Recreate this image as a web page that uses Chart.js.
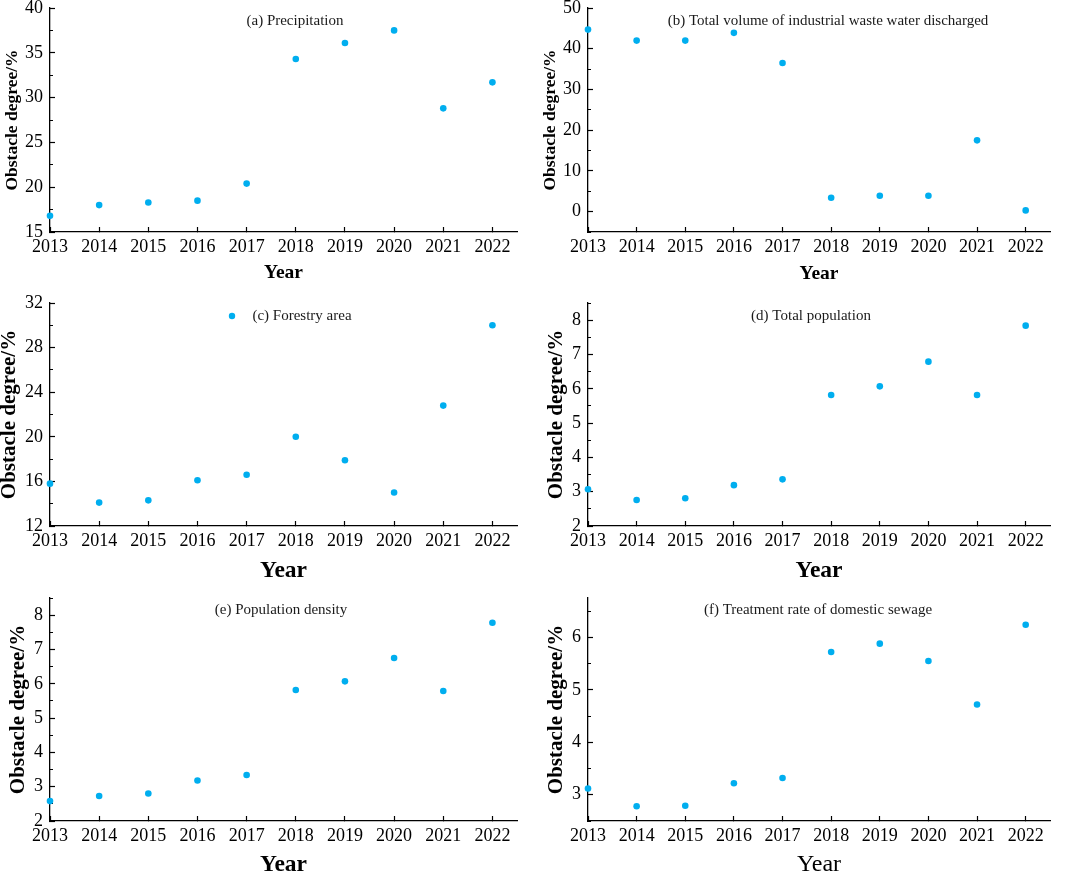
<!DOCTYPE html>
<html>
<head>
<meta charset="utf-8">
<title>Obstacle degree 2013-2022</title>
<script src="https://cdn.jsdelivr.net/npm/chart.js@4"></script>
<style>
  html, body { margin: 0; padding: 0; background: #fff; }
  #wrap { position: relative; width: 1065px; height: 874px; overflow: hidden; background: #fff; }
  #wrap canvas { position: absolute; }
</style>
</head>
<body>
<div id="wrap"></div>
<script>
// ---- Data ----
const years = [2013, 2014, 2015, 2016, 2017, 2018, 2019, 2020, 2021, 2022];

const precipitation   = [16.8, 18.0, 18.3, 18.5, 20.4, 34.3, 36.1, 37.5, 28.8, 31.7];
const wasteWater      = [44.7, 42.0, 42.0, 43.9, 36.5, 3.4, 3.9, 3.9, 17.5, 0.3];
const forestryArea    = [15.8, 14.1, 14.3, 16.1, 16.6, 20.0, 17.9, 15.0, 22.8, 30.0];
const totalPopulation = [3.07, 2.76, 2.81, 3.19, 3.36, 5.82, 6.07, 6.79, 5.82, 7.84];
const popDensity      = [2.58, 2.73, 2.80, 3.18, 3.34, 5.82, 6.07, 6.75, 5.79, 7.78];
const sewageRate      = [3.12, 2.78, 2.79, 3.22, 3.32, 5.72, 5.88, 5.55, 4.72, 6.24];

// labelled y ticks per panel
const yTicksA = [15, 20, 25, 30, 35, 40];
const yTicksB = [0, 10, 20, 30, 40, 50];
const yTicksC = [12, 16, 20, 24, 28, 32];
const yTicksD = [2, 3, 4, 5, 6, 7, 8];
const yTicksE = [2, 3, 4, 5, 6, 7, 8];
const yTicksF = [3, 4, 5, 6];

// ---- Panel layout ----
const SERIF = "'Liberation Serif', 'Times New Roman', serif";
const DOT = "#00AEEF";

const panels = [
  { values: precipitation, caption: "(a) Precipitation", majors: yTicksA, min: 15, max: 40, step: 2.5,
    box: [0, 0, 530, 300], area: { left: 50, top: 8, right: 517, bottom: 232 },
    cap: [295, 21], yTitle: { size: 17.5, x: 12 }, xTitle: { size: 19.5, y: 273, weight: "bold" } },
  { values: wasteWater, caption: "(b) Total volume of industrial waste water discharged", majors: yTicksB, min: -5, max: 50, step: 5,
    box: [530, 0, 535, 300], area: { left: 58, top: 8, right: 520, bottom: 232 },
    cap: [298, 21], yTitle: { size: 17.5, x: 20 }, xTitle: { size: 19.5, y: 274, weight: "bold" } },
  { values: forestryArea, caption: "(c) Forestry area", majors: yTicksC, min: 12, max: 32, step: 2,
    box: [0, 290, 530, 300], area: { left: 50, top: 13, right: 517, bottom: 236 },
    cap: [302, 26], key: [232, 26], yTitle: { size: 21, x: 10 }, xTitle: { size: 23.5, y: 281, weight: "bold" } },
  { values: totalPopulation, caption: "(d) Total population", majors: yTicksD, min: 2, max: 8.5, step: 0.5,
    box: [530, 290, 535, 300], area: { left: 58, top: 13, right: 520, bottom: 236 },
    cap: [281, 26], yTitle: { size: 21, x: 27 }, xTitle: { size: 23.5, y: 281, weight: "bold" } },
  { values: popDensity, caption: "(e) Population density", majors: yTicksE, min: 2, max: 8.5, step: 0.5,
    box: [0, 580, 530, 294], area: { left: 50, top: 18, right: 517, bottom: 241 },
    cap: [281, 30], yTitle: { size: 21, x: 19 }, xTitle: { size: 23.5, y: 285, weight: "bold" } },
  { values: sewageRate, caption: "(f) Treatment rate of domestic sewage", majors: yTicksF, min: 2.5, max: 6.75, step: 0.5,
    box: [530, 580, 535, 294], area: { left: 58, top: 18, right: 520, bottom: 241 },
    cap: [288, 30], yTitle: { size: 21, x: 27 }, xTitle: { size: 24, y: 285, weight: "normal" } }
];

// caption inside the plot area (and the legend key of panel c)
const captionPlugin = {
  id: "caption",
  afterDraw(chart, args, opts) {
    const ctx = chart.ctx;
    ctx.save();
    ctx.font = "15px " + SERIF;
    ctx.fillStyle = "#1a1a1a";
    ctx.textAlign = "center";
    ctx.textBaseline = "middle";
    ctx.fillText(opts.text, opts.x, opts.y);
    if (opts.key) {
      ctx.fillStyle = DOT;
      ctx.beginPath();
      ctx.arc(opts.key[0], opts.key[1], 3.2, 0, Math.PI * 2);
      ctx.fill();
    }
    ctx.restore();
  }
};

function isMajor(p, v) {
  return p.majors.some(m => Math.abs(m - v) < 1e-9);
}

function makePanel(p) {
  const [left, top, w, h] = p.box;
  const canvas = document.createElement("canvas");
  canvas.width = w;
  canvas.height = h;
  canvas.style.left = left + "px";
  canvas.style.top = top + "px";
  canvas.style.width = w + "px";
  canvas.style.height = h + "px";
  document.getElementById("wrap").appendChild(canvas);

  new Chart(canvas, {
    type: "scatter",
    data: {
      datasets: [{
        label: p.caption,
        data: years.map((x, i) => ({ x: x, y: p.values[i] })),
        backgroundColor: DOT,
        borderWidth: 0,
        pointRadius: 3.3,
        pointHoverRadius: 3.3,
        clip: false
      }]
    },
    options: {
      responsive: false,
      animation: false,
      devicePixelRatio: 1,
      layout: { padding: { top: p.area.top, right: w - p.area.right, left: 0, bottom: 0 } },
      plugins: {
        legend: { display: false },
        tooltip: { enabled: false },
        caption: { text: p.caption, x: p.cap[0], y: p.cap[1], key: p.key }
      },
      scales: {
        x: {
          type: "linear",
          min: 2013,
          max: 2022.5,
          afterBuildTicks: s => { s.ticks = years.map(v => ({ value: v })); },
          afterFit: s => {
            s.height = h - p.area.bottom;
            s.paddingLeft = 0; s.paddingRight = 0; s.paddingTop = 0; s.paddingBottom = 0;
          },
          border: { display: true, color: "#000", width: 1.3 },
          grid: { drawOnChartArea: false, drawTicks: true, tickLength: -5, tickColor: "#000", tickWidth: 1.2 },
          ticks: {
            autoSkip: false,
            maxRotation: 0,
            padding: 11,
            color: "#000",
            font: { family: SERIF, size: 18, lineHeight: 1 },
            callback: v => String(v)
          },
          title: {
            display: true,
            text: "Year",
            color: "#000",
            font: { family: SERIF, size: p.xTitle.size, weight: p.xTitle.weight, lineHeight: 1 },
            padding: { top: 0, bottom: h - p.xTitle.y - p.xTitle.size / 2 }
          }
        },
        y: {
          type: "linear",
          min: p.min,
          max: p.max,
          afterFit: s => {
            s.width = p.area.left;
            s.paddingLeft = 0; s.paddingRight = 0; s.paddingTop = 0; s.paddingBottom = 0;
          },
          border: { display: true, color: "#000", width: 1.3 },
          grid: {
            drawOnChartArea: false,
            drawTicks: true,
            tickLength: -5,
            tickColor: "#000",
            tickWidth: 1.2,
            tickBorderDash: c => (c.tick && isMajor(p, c.tick.value)) ? [] : [0, 2, 3, 100]
          },
          ticks: {
            stepSize: p.step,
            includeBounds: false,
            autoSkip: false,
            padding: 12,
            color: "#000",
            font: { family: SERIF, size: 18, lineHeight: 1 },
            callback: v => isMajor(p, v) ? String(v) : ""
          },
          title: {
            display: true,
            text: "Obstacle degree/%",
            color: "#000",
            font: { family: SERIF, size: p.yTitle.size, weight: "bold", lineHeight: 1 },
            padding: { top: p.yTitle.x - p.yTitle.size / 2, bottom: 0 }
          }
        }
      }
    },
    plugins: [captionPlugin]
  });
}

panels.forEach(makePanel);
</script>
</body>
</html>
